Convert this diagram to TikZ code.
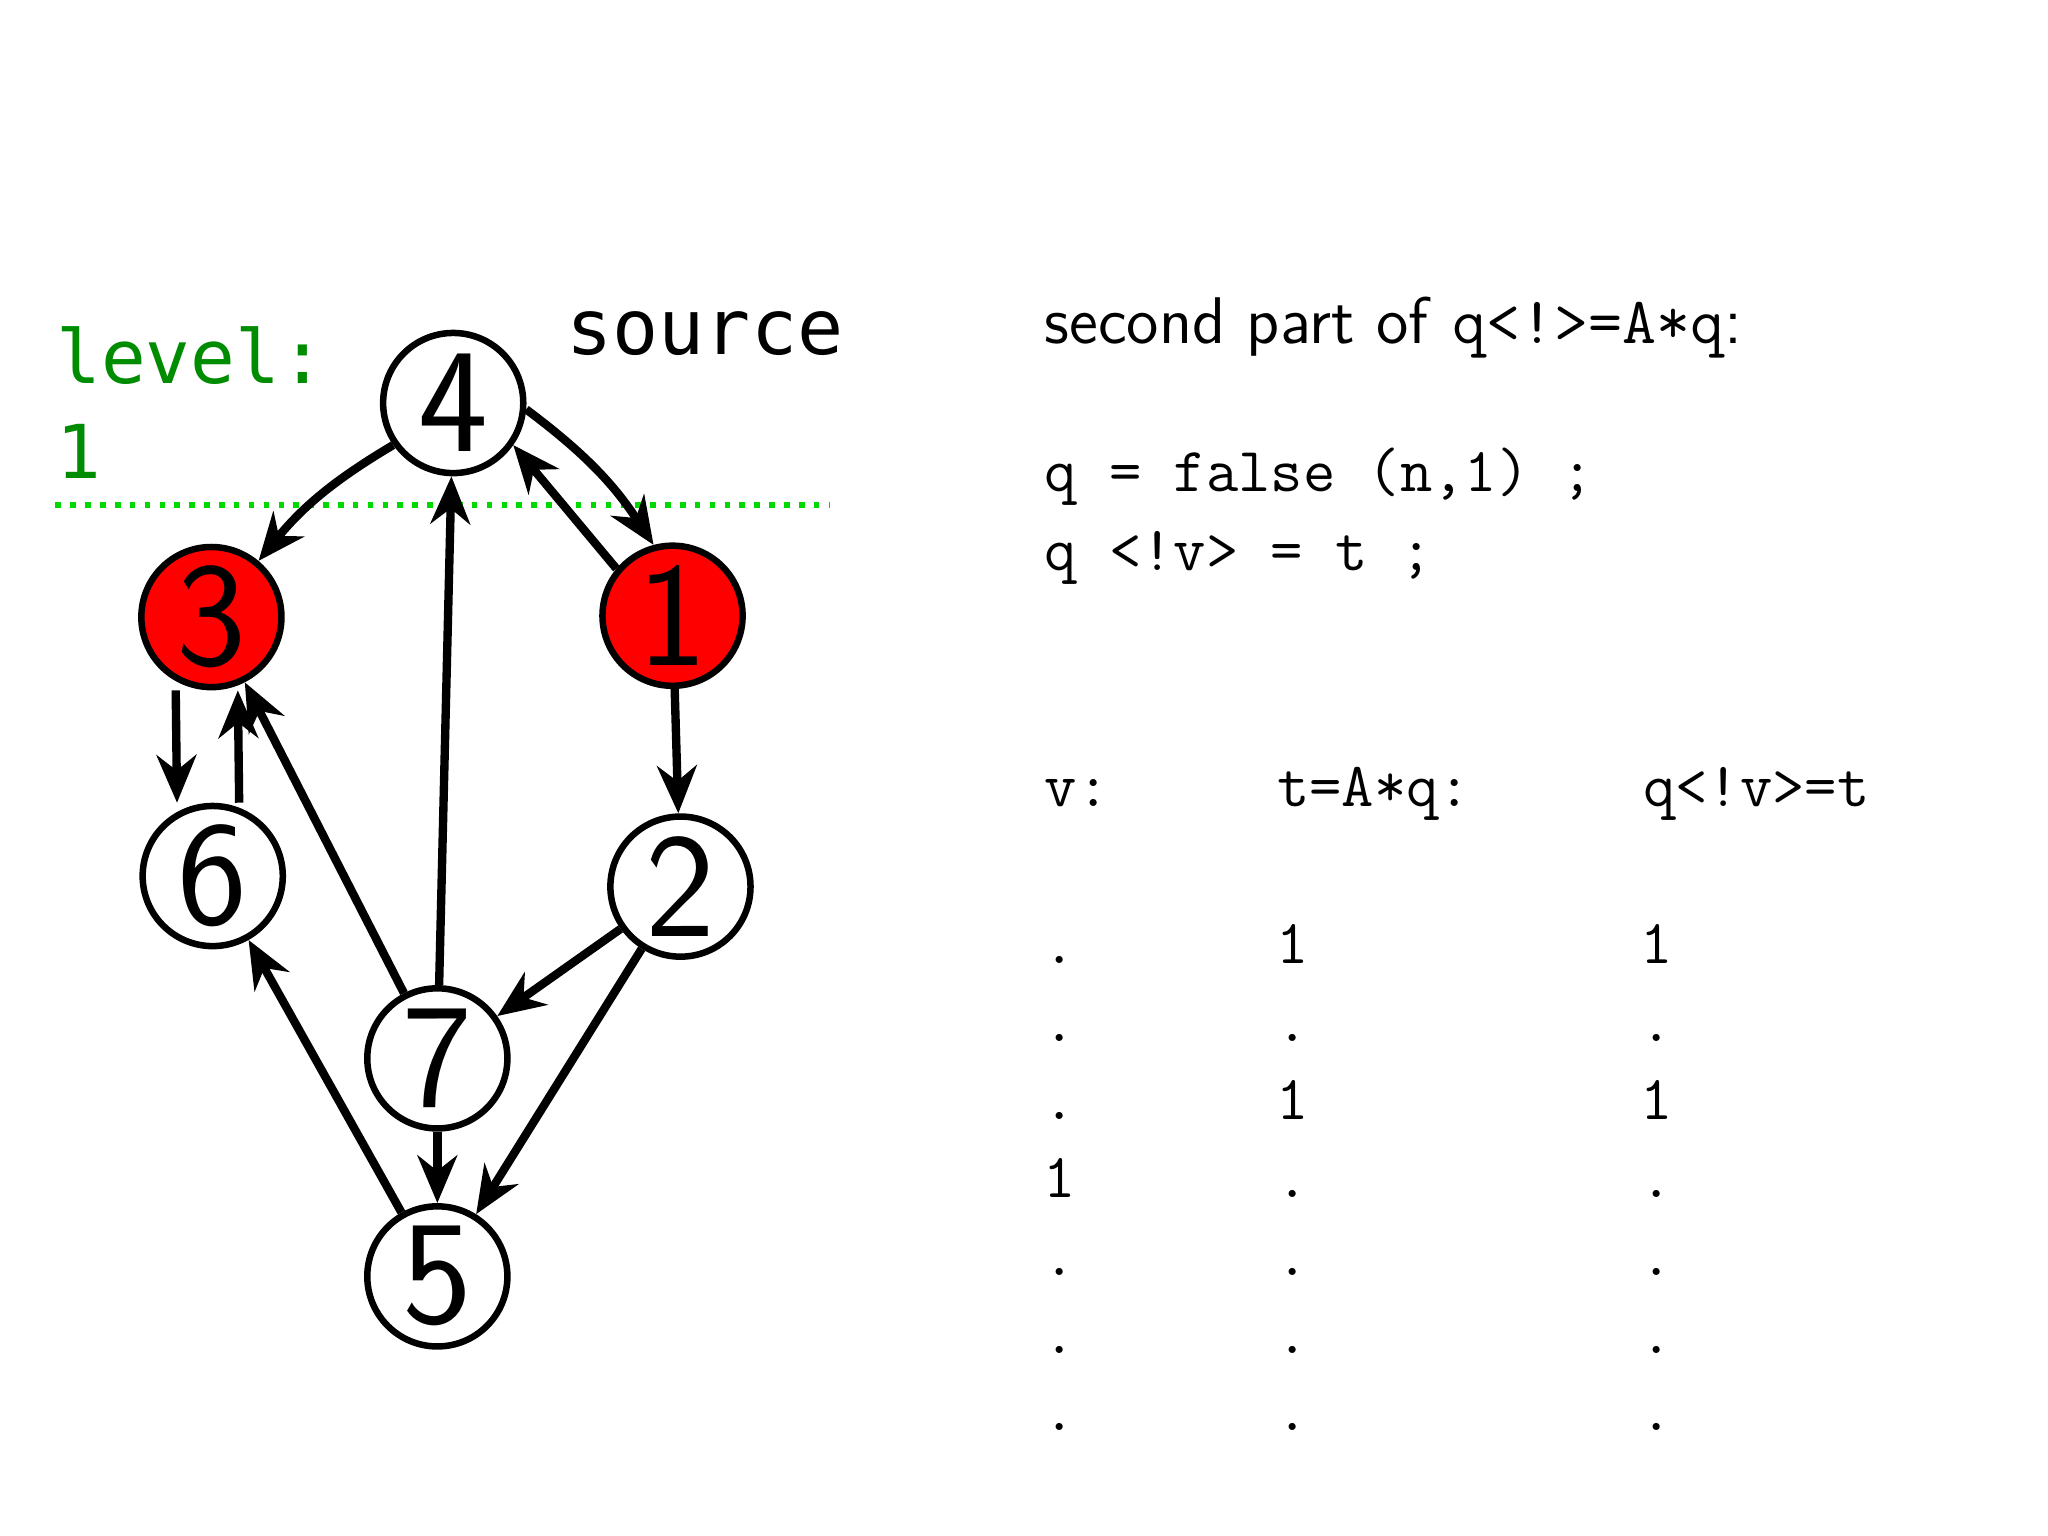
\documentclass[tikz,border=0pt]{standalone}
\usepackage{fontspec}
\usetikzlibrary{arrows.meta}
\newfontfamily\dmono{DejaVu Sans Mono}
\begin{document}
\begin{tikzpicture}[x=0.01cm,y=-0.01cm,
  v/.style={circle,draw,line width=1.4pt,fill=white,minimum size=1.06cm,inner sep=0pt,font=\sffamily\fontsize{32}{32}\selectfont},
  r/.style={v,fill=red},
  e/.style={line width=1.8pt,-{Stealth[length=0.36cm,width=0.3cm]}},
  tt/.style={font=\ttfamily\fontsize{13.5}{14}\selectfont,anchor=base west,inner sep=0pt}]
\useasboundingbox (0,0) rectangle (1550,1162);
\node[v] (n4) at (343,305) {4};
\node[r] (n3) at (160,467) {3};
\node[r] (n1) at (509,466) {1};
\node[v] (n6) at (161,663) {6};
\node[v] (n2) at (515,671) {2};
\node[v] (n7) at (331,801) {7};
\node[v] (n5) at (331,966) {5};
\draw[green!85!black,line width=1.2pt,dotted] (42,382) coordinate (gl) -- (628,382) coordinate (gr);
\draw[e] (n4.-145) to[bend right=10] (n3.50);
\draw[e] (n4.-5) to[bend left=10] (n1.105);
\draw[e] (n1.140) -- (n4.-35);
\draw[e] (n7) -- (n4);
\draw[e] ([xshift=-0.27cm]n3.south) -- ([xshift=-0.27cm]n6.north);
\draw[e] ([xshift=0.2cm]n6.north) -- ([xshift=0.2cm]n3.south);
\draw[e] (n1) -- (n2);
\draw[e] (n7) -- (n3);
\draw[e] (n2) -- (n7);
\draw[e] (n2) -- (n5);
\draw[e] (n7) -- (n5);
\draw[e] (n5) -- (n6);
\node[font=\dmono\fontsize{16.5}{17}\selectfont,anchor=base west,inner sep=0pt] (src) at (428,268) {source};
\node[font=\dmono\fontsize{16}{17}\selectfont,anchor=base west,inner sep=0pt,text=green!55!black] (lv) at (42,290) {level:};
\node[font=\dmono\fontsize{16}{17}\selectfont,anchor=base west,inner sep=0pt,text=green!55!black] (lv1) at (42,362) {1};
\node[font=\sffamily\fontsize{14.2}{16}\selectfont,anchor=base west,inner sep=0pt] (hd) at (790,260) {second part of \texttt{q<!>=A*q}:};
\node[tt] (c1) at (790,372) {q = false (n,1) ;};
\node[tt] (c2) at (790,432) {q <!v> = t ;};
\node[tt] (h1) at (790,610) {v:};
\node[tt] (h2) at (966,610) {t=A*q:};
\node[tt] (h3) at (1243,610) {q<!v>=t};
\foreach \a/\b/\c [count=\i] in {./1/1, ././., ./1/1, 1/./., ././., ././., ././.}{
  \pgfmathsetmacro\yy{729+59*(\i-1)}
  \node[tt,anchor=base] (a\i) at (802,\yy) {\a};
  \node[tt,anchor=base] (b\i) at (978,\yy) {\b};
  \node[tt,anchor=base] (c\i x) at (1254,\yy) {\c};
}
\end{tikzpicture}
\end{document}
